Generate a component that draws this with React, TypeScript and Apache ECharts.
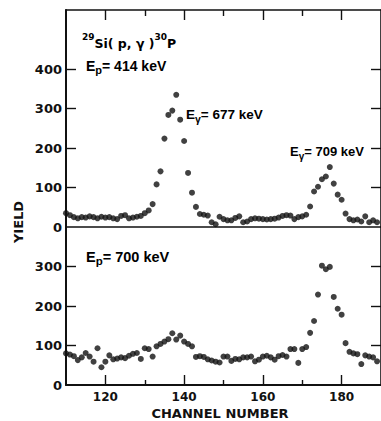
import React, { useEffect, useRef } from "react";
import * as echarts from "echarts";

const channels = [
  110, 111, 112, 113, 114, 115, 116, 117, 118, 119,
  120, 121, 122, 123, 124, 125, 126, 127, 128, 129,
  130, 131, 132, 133, 134, 135, 136, 137, 138, 139,
  140, 141, 142, 143, 144, 145, 146, 147, 148, 149,
  150, 151, 152, 153, 154, 155, 156, 157, 158, 159,
  160, 161, 162, 163, 164, 165, 166, 167, 168, 169,
  170, 171, 172, 173, 174, 175, 176, 177, 178, 179,
  180, 181, 182, 183, 184, 185, 186, 187, 188, 189,
];

// Ep = 414 keV
const yieldTop = [
  35, 30, 25, 22, 25, 24, 27, 25, 22, 26,
  24, 25, 22, 20, 28, 30, 22, 24, 26, 28,
  35, 42, 58, 108, 141, 224, 284, 295, 335, 272,
  218, 137, 87, 51, 33, 31, 29, 12, 7, 26,
  20, 17, 17, 23, 27, 12, 14, 20, 22, 21,
  20, 19, 20, 21, 24, 28, 30, 29, 20, 25,
  27, 31, 52, 90, 102, 121, 128, 152, 110, 82,
  69, 34, 20, 17, 19, 14, 27, 12, 17, 12,
];

// Ep = 700 keV
const yieldBottom = [
  80, 77, 73, 63, 70, 81, 72, 59, 93, 45,
  59, 75, 65, 67, 70, 68, 74, 79, 81, 66,
  93, 91, 72, 98, 104, 110, 116, 131, 115, 125,
  110, 104, 98, 71, 73, 71, 65, 62, 59, 57,
  72, 72, 61, 66, 65, 70, 70, 72, 60, 64,
  72, 74, 70, 64, 73, 76, 72, 91, 91, 56,
  91, 96, 132, 162, 229, 302, 293, 299, 223, 193,
  178, 106, 84, 80, 78, 53, 75, 72, 70, 60,
];

const topYTicks = [100, 200, 300, 400];
const topYLabels = [0, 100, 200, 300, 400];
const bottomYTicks = [100, 200, 300];
const bottomYLabels = [0, 100, 200, 300];
const majorXTicks = [120, 140, 160, 180];
const minorXTicks = [130, 150, 170];

const INK = "#111";
const FONT = "DejaVu Sans";
const AFONT = "Liberation Sans";

function annoRich(size: number) {
  return {
    b: { fontFamily: AFONT, fontWeight: "bold", fontSize: size, lineHeight: 14, verticalAlign: "top", color: INK },
    sub: { fontFamily: AFONT, fontWeight: "bold", fontSize: size - 3, lineHeight: 10, verticalAlign: "bottom", color: INK },
    sp: { fontSize: 1, lineHeight: 17, verticalAlign: "top" },
  };
}

export default function App() {
  const ref = useRef<HTMLDivElement>(null);

  useEffect(() => {
    if (!ref.current) return;
    const chart = echarts.init(ref.current, null, { renderer: "svg" });
    const line = { color: INK, width: 1.6 };
    const tickLine = { color: INK, width: 1.4 };
    const gTop = { left: 66, top: 10, width: 316, height: 217 };
    const gBot = { left: 66, top: 227, width: 316, height: 158 };
    const xBase = { type: "value", min: 110, max: 190, splitLine: { show: false } };

    chart.setOption({
      animation: false,
      backgroundColor: "#fff",
      grid: [gTop, gBot, gTop, gBot],
      xAxis: [
        {
          ...xBase, gridIndex: 0, position: "bottom",
          axisLine: { show: true, onZero: false, lineStyle: line },
          axisTick: { show: false }, axisLabel: { show: false },
        },
        {
          ...xBase, gridIndex: 0, position: "top",
          axisLine: { show: true, onZero: false, lineStyle: line },
          axisTick: { show: true, inside: true, length: 10, customValues: majorXTicks, lineStyle: tickLine },
          axisLabel: { show: false },
        },
        {
          ...xBase, gridIndex: 1, position: "bottom",
          axisLine: { show: true, onZero: false, lineStyle: { color: INK, width: 2 } },
          axisTick: { show: true, inside: true, length: 10, customValues: majorXTicks, lineStyle: tickLine },
          axisLabel: {
            show: true, customValues: majorXTicks, margin: 6,
            fontFamily: FONT, fontWeight: "bold", fontSize: 12, color: INK,
          },
        },
        {
          ...xBase, gridIndex: 1, position: "top",
          axisLine: { show: false, onZero: false }, axisTick: { show: false }, axisLabel: { show: false },
        },
        {
          ...xBase, gridIndex: 2, position: "top",
          axisLine: { show: false, onZero: false },
          axisTick: { show: true, inside: true, length: 6, customValues: minorXTicks, lineStyle: tickLine },
          axisLabel: { show: false },
        },
        {
          ...xBase, gridIndex: 3, position: "bottom",
          axisLine: { show: false, onZero: false },
          axisTick: { show: true, inside: true, length: 5, customValues: minorXTicks, lineStyle: tickLine },
          axisLabel: { show: false },
        },
      ],
      yAxis: [
        {
          type: "value", gridIndex: 0, min: 0, max: 550, position: "left",
          splitLine: { show: false },
          axisLine: { show: true, onZero: false, lineStyle: { color: INK, width: 2 } },
          axisTick: { show: true, inside: true, length: 10, customValues: topYTicks, lineStyle: tickLine },
          axisLabel: {
            show: true, customValues: topYLabels, margin: 4,
            fontFamily: FONT, fontWeight: "bold", fontSize: 13, color: INK,
          },
        },
        {
          type: "value", gridIndex: 0, min: 0, max: 550, position: "right",
          splitLine: { show: false },
          axisLine: { show: true, onZero: false, lineStyle: line },
          axisTick: { show: true, inside: true, length: 10, customValues: topYTicks, lineStyle: tickLine },
          axisLabel: { show: false },
        },
        {
          type: "value", gridIndex: 1, min: 0, max: 400, position: "left",
          splitLine: { show: false },
          axisLine: { show: true, onZero: false, lineStyle: { color: INK, width: 2 } },
          axisTick: { show: true, inside: true, length: 10, customValues: bottomYTicks, lineStyle: tickLine },
          axisLabel: {
            show: true, customValues: bottomYLabels, margin: 4,
            fontFamily: FONT, fontWeight: "bold", fontSize: 13, color: INK,
          },
        },
        {
          type: "value", gridIndex: 1, min: 0, max: 400, position: "right",
          splitLine: { show: false },
          axisLine: { show: true, onZero: false, lineStyle: line },
          axisTick: { show: true, inside: true, length: 10, customValues: bottomYTicks, lineStyle: tickLine },
          axisLabel: { show: false },
        },
        { type: "value", gridIndex: 2, min: 0, max: 550, show: false },
        { type: "value", gridIndex: 3, min: 0, max: 400, show: false },
      ],
      series: [
        {
          type: "scatter", xAxisIndex: 0, yAxisIndex: 0,
          data: channels.map((c, i) => [c, yieldTop[i]]),
          symbol: "circle", symbolSize: 6,
          itemStyle: { color: INK },
        },
        {
          type: "scatter", xAxisIndex: 2, yAxisIndex: 2,
          data: channels.map((c, i) => [c, yieldBottom[i]]),
          symbol: "circle", symbolSize: 6,
          itemStyle: { color: INK },
        },
      ],
      graphic: [
        {
          type: "text", x: 18, y: 222, rotation: Math.PI / 2,
          style: {
            text: "YIELD", fill: INK, font: `bold 13px "${FONT}"`,
            textAlign: "center", textVerticalAlign: "middle",
          },
        },
        {
          type: "text", x: 220, y: 413,
          style: {
            text: "CHANNEL NUMBER", fill: INK, font: `bold 13px "${FONT}"`,
            textAlign: "center", textVerticalAlign: "middle",
          },
        },
        {
          type: "text", x: 82, y: 41,
          style: {
            text: "{sup|29}{n|Si( p, γ )}{sup|30}{n|P}",
            textAlign: "left", textVerticalAlign: "middle",
            rich: {
              sup: { fontFamily: FONT, fontWeight: "bold", fontSize: 9, lineHeight: 9, verticalAlign: "top", color: INK },
              n: { fontFamily: FONT, fontWeight: "bold", fontSize: 12.5, lineHeight: 18, verticalAlign: "bottom", color: INK },
            },
          },
        },
        {
          type: "text", x: 86, y: 67,
          style: {
            text: "{b|E}{sub|p}{b|= 414 keV}{sp| }",
            textAlign: "left", textVerticalAlign: "middle", rich: annoRich(14),
          },
        },
        {
          type: "text", x: 186, y: 116,
          style: {
            text: "{b|E}{sub|γ}{b|= 677 keV}{sp| }",
            textAlign: "left", textVerticalAlign: "middle", rich: annoRich(13.5),
          },
        },
        {
          type: "text", x: 290, y: 153,
          style: {
            text: "{b|E}{sub|γ}{b|= 709 keV}{sp| }",
            textAlign: "left", textVerticalAlign: "middle", rich: annoRich(13),
          },
        },
        {
          type: "text", x: 86, y: 258,
          style: {
            text: "{b|E}{sub|p}{b|= 700 keV}{sp| }",
            textAlign: "left", textVerticalAlign: "middle", rich: annoRich(14.5),
          },
        },
      ],
    });
    return () => chart.dispose();
  }, []);

  return (
    <div
      ref={ref}
      style={{ position: "fixed", left: 0, top: 0, width: 381, height: 421, background: "#fff" }}
    />
  );
}
